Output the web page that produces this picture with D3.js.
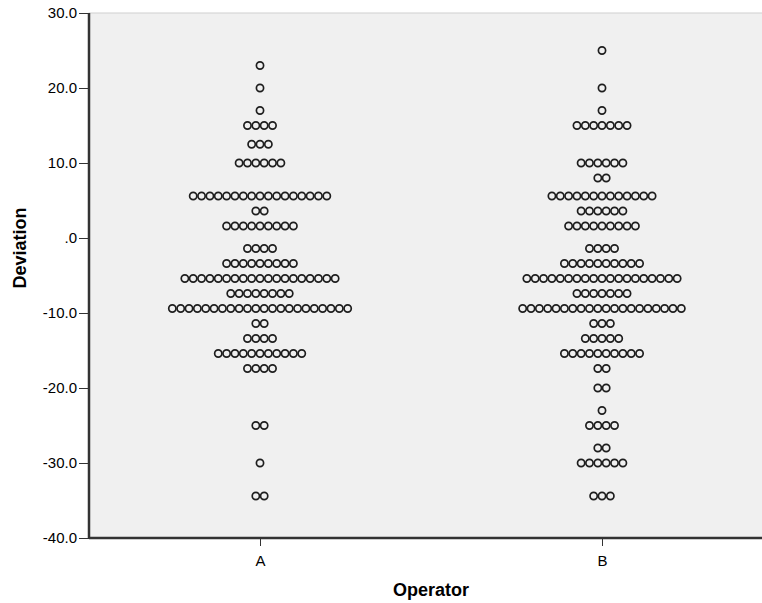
<!DOCTYPE html>
<html>
<head>
<meta charset="utf-8">
<script src="https://cdn.jsdelivr.net/npm/d3@7"></script>
<style>
  body { margin: 0; background: #fff; }
  svg { display: block; font-family: "Liberation Sans", Arial, sans-serif; }
</style>
</head>
<body>
<svg id="chart"></svg>
<script>
// Operators on the x axis
const operators = ["A", "B"];

// Dot rows (binned deviation) and how many dots sit in each row
const levelsA = [23, 20, 17, 15, 12.5, 10, 5.6, 3.6, 1.6, -1.4, -3.4, -5.4, -7.4, -9.4, -11.4, -13.4, -15.4, -17.4, -25, -30, -34.4];
const countsA = [1, 1, 1, 4, 3, 6, 17, 2, 9, 4, 9, 19, 8, 22, 2, 4, 11, 4, 2, 1, 2];

const levelsB = [25, 20, 17, 15, 10, 8, 5.6, 3.6, 1.6, -1.4, -3.4, -5.4, -7.4, -9.4, -11.4, -13.4, -15.4, -17.4, -20, -23, -25, -28, -30, -34.4];
const countsB = [1, 1, 1, 7, 6, 2, 13, 6, 9, 4, 10, 19, 7, 20, 3, 5, 10, 2, 2, 1, 4, 2, 6, 3];

const yTicks = [30, 20, 10, 0, -10, -20, -30, -40];

const width = 762, height = 603;
const margin = { top: 13, left: 89, bottom: 538, right: 773 };
const DOT_PITCH = 8.35;

const svg = d3.select("#chart").attr("width", width).attr("height", height);

const x = d3.scalePoint()
  .domain(operators)
  .range([margin.left, margin.right])
  .padding(0.5);

const y = d3.scaleLinear()
  .domain([-40, 30])
  .range([margin.bottom, margin.top]);

// plot background
svg.append("rect")
  .attr("x", margin.left)
  .attr("y", margin.top)
  .attr("width", margin.right - margin.left)
  .attr("height", margin.bottom - margin.top)
  .attr("fill", "#f0f0f0")
  .attr("stroke", "#d0d0d0")
  .attr("stroke-width", 1);

// expand rows into single dots
const rows = [
  { op: "A", levels: levelsA, counts: countsA },
  { op: "B", levels: levelsB, counts: countsB }
];
const dots = [];
rows.forEach(r => {
  r.levels.forEach((v, i) => {
    const n = r.counts[i];
    for (let k = 0; k < n; k++) {
      dots.push({ op: r.op, value: v, offset: (k - (n - 1) / 2) * DOT_PITCH });
    }
  });
});

svg.append("g")
  .selectAll("circle")
  .data(dots)
  .enter()
  .append("circle")
  .attr("cx", d => x(d.op) + d.offset)
  .attr("cy", d => y(d.value))
  .attr("r", 3.6)
  .attr("fill", "none")
  .attr("stroke", "#1e1e1e")
  .attr("stroke-width", 1.7);

// axes
const yAxis = svg.append("g")
  .attr("transform", `translate(${margin.left},0)`)
  .call(d3.axisLeft(y)
    .tickValues(yTicks)
    .tickSize(10)
    .tickPadding(2)
    .tickFormat(d => d === 0 ? ".0" : d.toFixed(1)));

const xAxis = svg.append("g")
  .attr("transform", `translate(0,${margin.bottom})`)
  .call(d3.axisBottom(x).tickSize(8).tickPadding(9));

[yAxis, xAxis].forEach(g => {
  g.select(".domain").attr("stroke", "#333").attr("stroke-width", 2.5);
  g.selectAll(".tick line").attr("stroke", "#333").attr("stroke-width", 1);
  g.selectAll(".tick text")
    .attr("fill", "#000")
    .style("font-size", "15px")
    .style("font-family", "'Liberation Sans', Arial, sans-serif");
});
yAxis.select(".domain").attr("d", `M0,${margin.top}V${margin.bottom}`);
xAxis.select(".domain").attr("d", `M${margin.left},0H${margin.right}`);

// titles
svg.append("text")
  .attr("transform", `translate(26,248) rotate(-90)`)
  .attr("text-anchor", "middle")
  .style("font-size", "18px")
  .style("font-weight", "bold")
  .text("Deviation");

svg.append("text")
  .attr("x", (margin.left + margin.right) / 2)
  .attr("y", 596)
  .attr("text-anchor", "middle")
  .style("font-size", "18px")
  .style("font-weight", "bold")
  .text("Operator");
</script>
</body>
</html>
